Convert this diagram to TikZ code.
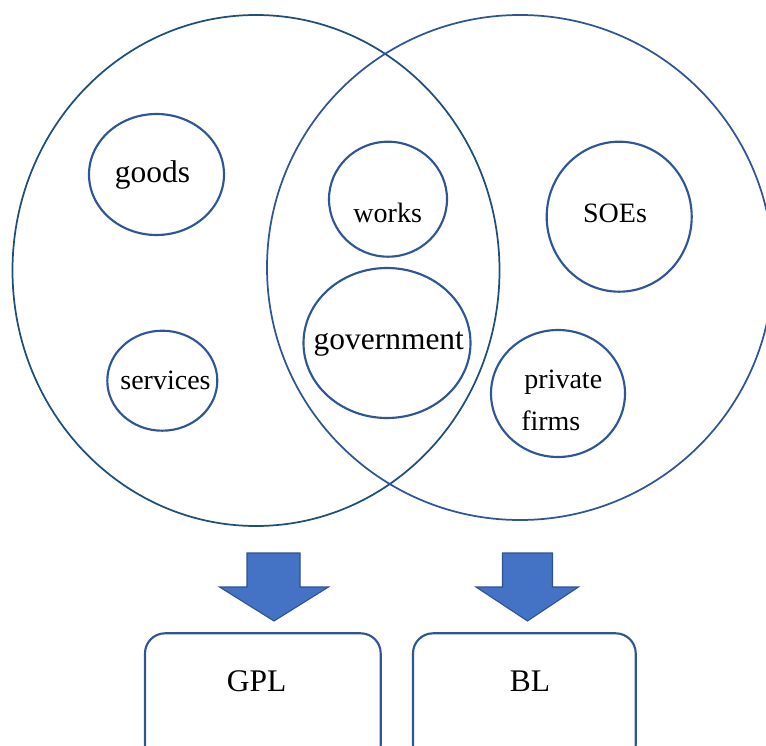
\documentclass[tikz,border=0pt]{standalone}
\usepackage{fontspec}
\setmainfont{Liberation Serif}
\usepackage{tikz}

\begin{document}
\begin{tikzpicture}[x = 0.75pt, y = 0.75pt,
    ring/.style = {draw=C2F5597, line width=1.6pt},
    bigtext/.style = {anchor=base, inner sep=0, font=\fontsize{23.6}{28}\selectfont},
    smalltext/.style = {anchor=base, inner sep=0, font=\fontsize{21}{25}\selectfont},
    blockarrow/.style = {fill=C4472C4, draw=C2F528F, line width=0.8pt, line join=miter}]
    \definecolor{C1F4E79}{RGB}{31,78,121}
    \definecolor{C2F5597}{RGB}{47,85,151}
    \definecolor{C4472C4}{RGB}{68,114,196}
    \definecolor{C2F528F}{RGB}{47,82,143}
    \useasboundingbox (0.0,0.0) rectangle (766.0,-745.0);
    % the two big sets
    \draw [draw=C1F4E79, line width=1.3pt] (256.0,-270.5) ellipse (243.5 and 255.5);
    \draw [draw=C2F5597, line width=1.3pt] (520.0,-267.5) ellipse (253.0 and 252.5);
    % members
    \draw [ring] (156.5,-174.5) ellipse (67.5 and 60.5);
    \node (ID_goods) [bigtext] at (152.5,-182.7) {goods};
    \draw [ring] (162.3,-380.7) ellipse (55.0 and 50.0);
    \node (ID_services) [smalltext] at (165.5,-389.0) {services};
    \draw [ring] (388.0,-199.2) ellipse (59.0 and 57.5);
    \node (ID_works) [smalltext] at (387.7,-222.3) {works};
    \draw [ring] (387.0,-343.0) ellipse (83.5 and 75.0);
    \node (ID_government) [bigtext] at (388.8,-349.0) {government};
    \draw [ring] (619.2,-216.7) ellipse (72.5 and 75.0);
    \node (ID_SOEs) [smalltext] at (615.0,-222.7) {SOEs};
    \draw [ring] (558.0,-393.5) ellipse (67.0 and 63.5);
    \node (ID_private) [smalltext] at (563.3,-388.3) {private};
    \node (ID_firms) [smalltext] at (550.8,-430.0) {firms};
    % block arrows
    \draw [blockarrow] (247.0,-553.0) -- (300.0,-553.0) -- (300.0,-587.0) -- (328.5,-587.0)
        -- (274.0,-621.0) -- (219.5,-587.0) -- (247.0,-587.0) -- cycle;
    \draw [blockarrow] (502.5,-553.0) -- (552.5,-553.0) -- (552.5,-587.0) -- (578.5,-587.0)
        -- (527.5,-621.0) -- (476.0,-587.0) -- (502.5,-587.0) -- cycle;
    % laws
    \draw [ring, rounded corners=15pt] (145.0,-633.3) rectangle (380.7,-765.0);
    \node (ID_GPL) [bigtext] at (256.7,-691.7) {GPL};
    \draw [ring, rounded corners=15pt] (413.0,-633.3) rectangle (635.7,-765.0);
    \node (ID_BL) [bigtext] at (530.0,-691.7) {BL};
\end{tikzpicture}
\end{document}
